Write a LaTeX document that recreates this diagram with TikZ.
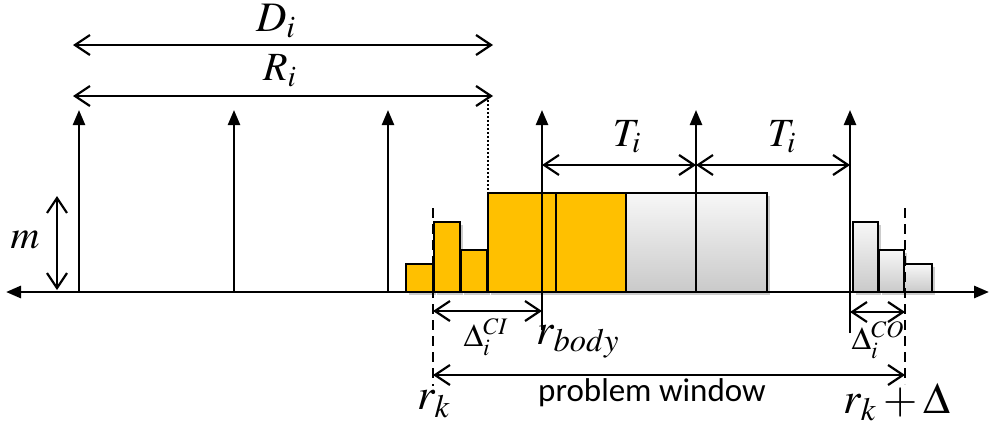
\documentclass[tikz,border=0pt]{standalone}
\usepackage{mathptmx}
\usepackage{fontspec}
\newfontfamily\winfont{Carlito}
\usetikzlibrary{arrows.meta}
\definecolor{gold}{HTML}{FFC000}
\tikzset{
  shade box/.style={preaction={fill=black,opacity=0.2,transform canvas={shift={(1.4pt,-1.4pt)}}}},
  ybox/.style={shade box,draw=black,line width=1.3pt,fill=gold},
  gbox/.style={shade box,draw=black,line width=1.3pt,top color=gray!6,bottom color=gray!42},
  release/.style={line width=1.2pt,-{Triangle[length=7.5pt,width=6pt]}},
  axisline/.style={line width=1.4pt,{Triangle[length=7.5pt,width=6pt]}-{Triangle[length=7.5pt,width=6pt]}},
  dimarrow/.style={line width=1.1pt,{Straight Barb[length=7.5pt,width=10pt]}-{Straight Barb[length=7.5pt,width=10pt]}},
  dashline/.style={line width=1.1pt,dash pattern=on 5pt off 3pt},
  dotline/.style={line width=1.1pt,dash pattern=on 1pt off 1pt},
  lbl/.style={inner sep=0pt,font=\fontsize{17}{19}\selectfont},
}
\begin{document}
\begin{tikzpicture}[x=0.5pt,y=-0.5pt]
\useasboundingbox (0,0) rectangle (990,429);
% coordinates
\coordinate (axL) at (6,292);
\coordinate (axR) at (989,292);
\foreach \n/\x in {1/79,2/234,3/388,4/542,5/696,6/850}{
  \coordinate (top\n) at (\x,110);
  \coordinate (bot\n) at (\x,292);
}
\coordinate (bot4) at (542,330);
\coordinate (bot6) at (850,333);
\coordinate (DL) at (73,45);  \coordinate (DR) at (493,45);
\coordinate (RL) at (73,96);  \coordinate (RR) at (493,96);
\coordinate (TA) at (542,165); \coordinate (TB) at (696,165); \coordinate (TC) at (850,165);
\coordinate (mT) at (57,196); \coordinate (mB) at (57,290);
\coordinate (rkT) at (433,208); \coordinate (rkB) at (433,386);
\coordinate (reT) at (905,208); \coordinate (reB) at (905,384);
\coordinate (dotT) at (488,96); \coordinate (dotB) at (488,292);
\coordinate (ciL) at (433,311); \coordinate (ciR) at (542,311);
\coordinate (coL) at (850,312); \coordinate (coR) at (905,312);
\coordinate (pwL) at (433,375); \coordinate (pwR) at (905,375);

% boxes
\draw[ybox] (406,292) rectangle (433,264);
\draw[ybox] (434,292) rectangle (460,222);
\draw[ybox] (461,292) rectangle (487,250);
\draw[ybox] (488,292) rectangle (556,193);
\draw[ybox] (556,292) rectangle (626,193);
\draw[gbox] (626,292) rectangle (696,193);
\draw[gbox] (696,292) rectangle (767,193);
\draw[gbox] (853,292) rectangle (878,222);
\draw[gbox] (879,292) rectangle (904,250);
\draw[gbox] (904,292) rectangle (932,264);

% axis
\draw[axisline] (axL) -- (axR);
% release arrows
\foreach \n in {1,...,6}{\draw[release] (bot\n) -- (top\n);}

% dimension arrows
\draw[dimarrow] (DL) -- (DR);
\draw[dimarrow] (RL) -- (RR);
\draw[dimarrow] (TA) -- (TB);
\draw[dimarrow] (TB) -- (TC);
\draw[dimarrow] (mT) -- (mB);
\draw[dimarrow] (ciL) -- (ciR);
\draw[dimarrow] (coL) -- (coR);
\draw[dimarrow] (pwL) -- (pwR);

% guide lines
\draw[dotline] (dotT) -- (dotB);
\draw[dashline] (rkT) -- (rkB);
\draw[dashline] (reT) -- (reB);

% labels
\node[lbl,font=\fontsize{21}{23}\selectfont] (lD) at (276,21) {$D_{i}$};
\node[lbl,font=\fontsize{20}{22}\selectfont] (lR) at (280,71) {$R_{i}$};
\node[lbl,font=\fontsize{20}{22}\selectfont] (lT1) at (627,137) {$T_{i}$};
\node[lbl,font=\fontsize{20}{22}\selectfont] (lT2) at (782,137) {$T_{i}$};
\node[lbl,font=\fontsize{20}{22}\selectfont] (lm) at (25,240) {$m$};
\node[lbl,font=\fontsize{16}{18}\selectfont] (lci) at (486,337) {$\Delta_{i}^{CI}$};
\node[lbl,font=\fontsize{16}{18}\selectfont] (lco) at (878,340) {$\Delta_{i}^{CO}$};
\node[lbl,font=\fontsize{22}{24}\selectfont] (lrb) at (578,342) {$r_{body}$};
\node[lbl,font=\fontsize{22}{24}\selectfont] (lrk) at (434,404) {$r_{k}$};
\node[lbl,font=\fontsize{22}{24}\selectfont] (lrd) at (897,402) {$r_{k}+\Delta$};
\node[lbl,font=\winfont\fontsize{16.5}{18}\selectfont] (lpw) at (652,393) {problem window};
\end{tikzpicture}
\end{document}
